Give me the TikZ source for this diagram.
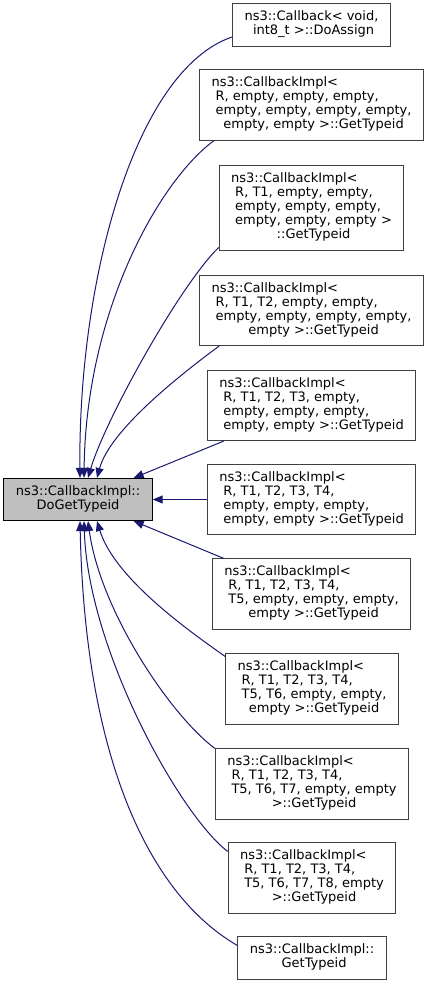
\documentclass[tikz,border=0pt]{standalone}
\usepackage{fontspec}
\setmainfont{DejaVu Sans}
\usetikzlibrary{arrows.meta,calc}

\definecolor{edgeblue}{HTML}{191970}
\definecolor{rootfill}{HTML}{BFBFBF}
\definecolor{boxline}{HTML}{404040}

% left lines, last line centred
\newcommand{\cblabel}[2]{\begin{tabular}{@{}l@{}}#1\\\multicolumn{1}{@{}c@{}}{#2}\end{tabular}}

\begin{document}
\begin{tikzpicture}[x=1pt, y=-1pt,
    cbox/.style={draw=boxline, fill=white, line width=1pt, inner xsep=12pt, inner ysep=7pt,
                 font=\fontsize{13}{14}\selectfont},
    rootbox/.style={cbox, draw=black, fill=rootfill},
    call/.style={draw=edgeblue, line width=1pt, -{Triangle[length=10pt,width=8pt]}}]
    \useasboundingbox (0,0) rectangle (429,984);

    % The called function
    \node[rootbox] (root) at (78,499.5) {\cblabel{ns3::CallbackImpl::}{DoGetTypeid}};

    % The callers
    \node[cbox] (b1) at (311.5,25) {\cblabel{ns3::Callback< void,}{\ int8\_t >::DoAssign}};
    \node[cbox] (b2) at (311.5,105) {\cblabel{ns3::CallbackImpl<\\\ R, empty, empty, empty,\\\ empty, empty, empty, empty,}{\ empty, empty >::GetTypeid}};
    \node[cbox] (b3) at (311.5,208) {\cblabel{ns3::CallbackImpl<\\\ R, T1, empty, empty,\\\ empty, empty, empty,\\\ empty, empty, empty >}{\ ::GetTypeid}};
    \node[cbox] (b4) at (311.5,310.5) {\cblabel{ns3::CallbackImpl<\\\ R, T1, T2, empty, empty,\\\ empty, empty, empty, empty,}{\ empty >::GetTypeid}};
    \node[cbox] (b5) at (311.5,405.5) {\cblabel{ns3::CallbackImpl<\\\ R, T1, T2, T3, empty,\\\ empty, empty, empty,}{\ empty, empty >::GetTypeid}};
    \node[cbox] (b6) at (311.5,499.5) {\cblabel{ns3::CallbackImpl<\\\ R, T1, T2, T3, T4,\\\ empty, empty, empty,}{\ empty, empty >::GetTypeid}};
    \node[cbox] (b7) at (311.5,594) {\cblabel{ns3::CallbackImpl<\\\ R, T1, T2, T3, T4,\\\ T5, empty, empty, empty,}{\ empty >::GetTypeid}};
    \node[cbox] (b8) at (312,689) {\cblabel{ns3::CallbackImpl<\\\ R, T1, T2, T3, T4,\\\ T5, T6, empty, empty,}{\ empty >::GetTypeid}};
    \node[cbox] (b9) at (312,784) {\cblabel{ns3::CallbackImpl<\\\ R, T1, T2, T3, T4,\\\ T5, T6, T7, empty, empty}{\ >::GetTypeid}};
    \node[cbox] (b10) at (312,878) {\cblabel{ns3::CallbackImpl<\\\ R, T1, T2, T3, T4,\\\ T5, T6, T7, T8, empty}{\ >::GetTypeid}};
    \node[cbox] (b11) at (312,958) {\cblabel{ns3::CallbackImpl::}{\ GetTypeid}};

    % Calls from above
    \draw[call] ([yshift=-12pt]b1.west) .. controls (135,70) and (78,280) .. ([xshift=2pt]root.north);
    \draw[call] ([xshift=15pt]b2.south west) .. controls (160,180) and (86,310) .. ([xshift=6pt]root.north);
    \draw[call] ([yshift=3pt]b3.south west) .. controls (180,285) and (105,420) .. ([xshift=10pt]root.north);
    \draw[call] ([xshift=20pt]b4.south west) .. controls (180,375) and (110,430) .. ([xshift=19pt]root.north);
    \draw[call] ([xshift=17pt]b5.south west) -- ([xshift=-19pt]root.north east);

    % Call from the side
    \draw[call] (b6.west) -- (root.east);

    % Calls from below
    \draw[call] ([xshift=12pt]b7.north west) -- ([xshift=-19pt]root.south east);
    \draw[call] ([yshift=-3pt]b8.north west) .. controls (195,635) and (115,580) .. ([xshift=19pt]root.south);
    \draw[call] (b9.north west) .. controls (170,715) and (100,610) .. ([xshift=10pt]root.south);
    \draw[call] ([yshift=-9pt]b10.north west) .. controls (180,815) and (88,650) .. ([xshift=6pt]root.south);
    \draw[call] ([yshift=-9pt]b11.north west) .. controls (150,895) and (85,760) .. ([xshift=2pt]root.south);
\end{tikzpicture}
\end{document}
